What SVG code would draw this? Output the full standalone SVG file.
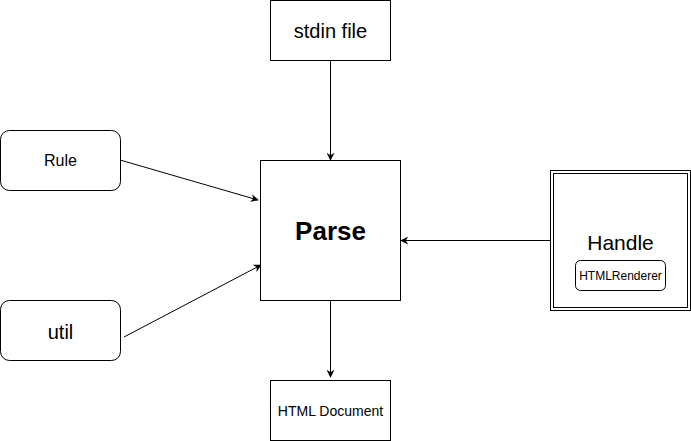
<svg xmlns="http://www.w3.org/2000/svg" width="691" height="441" viewBox="0 0 691 441">
<defs>
<style>
.box{fill:#fff;stroke:#000;stroke-width:1}
.t{font-family:"Liberation Sans",Arial,sans-serif;fill:#000;text-anchor:middle;dominant-baseline:central}
.c{stroke:#000;stroke-width:1;fill:none;marker-end:url(#ah)}
</style>
<marker id="ah" viewBox="0 0 10 10" refX="9" refY="5" markerWidth="8" markerHeight="8" markerUnits="userSpaceOnUse" orient="auto">
<path d="M0,0 L10,5 L0,10 L3,5 Z" fill="#000"/>
</marker>
</defs>
<rect width="691" height="441" fill="#fff"/>
<g id="connectors">
<line class="c" x1="330.5" y1="50" x2="330.5" y2="160"/>
<line class="c" x1="330.5" y1="300" x2="330.5" y2="377"/>
<line class="c" x1="550" y1="240.5" x2="401" y2="240.5"/>
<line class="c" x1="120" y1="160" x2="258" y2="200"/>
<line class="c" x1="124" y1="337" x2="261" y2="265"/>
</g>
<g id="stdin">
<rect class="box" x="270.5" y="0.5" width="120" height="60"/>
<text class="t" x="330.5" y="31" font-size="20">stdin file</text>
</g>
<g id="parse">
<rect class="box" x="260.5" y="160.5" width="140" height="140"/>
<text class="t" x="330.5" y="231" font-size="26" font-weight="bold">Parse</text>
</g>
<g id="rule">
<rect class="box" x="0.5" y="130.5" width="120" height="60" rx="9"/>
<text class="t" x="60.5" y="160.5" font-size="16">Rule</text>
</g>
<g id="util">
<rect class="box" x="0.5" y="300.5" width="120" height="60" rx="9"/>
<text class="t" x="60.5" y="332" font-size="20">util</text>
</g>
<g id="htmldoc">
<rect class="box" x="270.5" y="380.5" width="120" height="60"/>
<text class="t" x="330.5" y="410.5" font-size="14">HTML Document</text>
</g>
<g id="handle">
<rect class="box" x="550.5" y="170.5" width="140" height="140"/>
<rect class="box" x="553.5" y="173.5" width="134" height="134"/>
<text class="t" x="620.5" y="242" font-size="21">Handle</text>
<g id="htmlrenderer">
<rect class="box" x="575.5" y="260.5" width="90" height="30" rx="5"/>
<text class="t" x="620.5" y="275.5" font-size="12">HTMLRenderer</text>
</g>
</g>
</svg>
